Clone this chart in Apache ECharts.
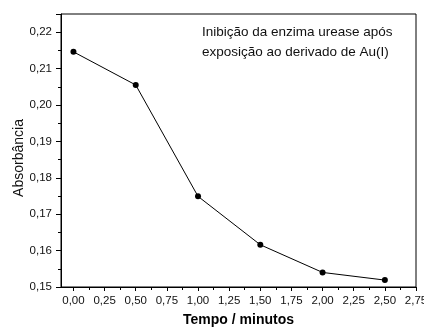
<!DOCTYPE html>
<html>
<head>
<meta charset="utf-8">
<script src="https://cdn.jsdelivr.net/npm/echarts@6/dist/echarts.min.js"></script>
<style>
  html, body { margin: 0; padding: 0; background: #fff; }
  #chart { width: 424px; height: 328px; }
</style>
</head>
<body>
<div id="chart"></div>
<script>
// tempo (min) e absorbância
const tempo = [0, 0.5, 1.0, 1.5, 2.0, 2.5];
const absorbancia = [0.2146, 0.2055, 0.1749, 0.1616, 0.1540, 0.1519];
const xMajorTicks = [0, 0.25, 0.5, 0.75, 1.0, 1.25, 1.5, 1.75, 2.0, 2.25, 2.5, 2.75];
const xMinorTicks = [0.125, 0.375, 0.625, 0.875, 1.125, 1.375, 1.625, 1.875, 2.125, 2.375, 2.625];
const legendLines = ['Inibição da enzima urease após', 'exposição ao derivado de Au(I)'];

const font = '"Liberation Sans", Arial, sans-serif';
const fmt = (v) => v.toFixed(2).replace('.', ',');

const myChart = echarts.init(document.getElementById('chart'));
myChart.setOption({
  animation: false,
  grid: {
    left: 61,
    right: 8,
    top: 14,
    bottom: 41,
    outerBoundsMode: 'none', // deixa o rótulo 2,75 sair pela borda como no original
    show: true,
    borderColor: '#000',
    borderWidth: 1,
  },
  xAxis: [
    {
      type: 'value',
      min: -0.1,
      max: 2.75,
      name: 'Tempo / minutos',
      nameLocation: 'middle',
      nameGap: 26,
      nameTextStyle: { fontFamily: font, fontSize: 14, fontWeight: 'bold', color: '#000' },
      axisLine: { onZero: false, lineStyle: { color: '#000', width: 1 } },
      axisTick: { length: 4, customValues: xMajorTicks, lineStyle: { color: '#000' } },
      axisLabel: {
        customValues: xMajorTicks,
        margin: 8,
        fontFamily: font,
        fontSize: 11.5,
        color: '#111',
        formatter: fmt,
      },
      splitLine: { show: false },
    },
    {
      // só para os traços menores do eixo x
      type: 'value',
      min: -0.1,
      max: 2.75,
      position: 'bottom',
      axisLine: { show: false, onZero: false },
      axisTick: { length: 3, customValues: xMinorTicks, lineStyle: { color: '#000' } },
      axisLabel: { show: false },
      splitLine: { show: false },
    },
  ],
  yAxis: {
    type: 'value',
    min: 0.15,
    max: 0.225,
    interval: 0.01,
    axisLine: { show: true, onZero: false, lineStyle: { color: '#000', width: 1 } },
    axisTick: { show: true, length: 5, lineStyle: { color: '#000' } },
    minorTick: { show: true, splitNumber: 2, length: 3, lineStyle: { color: '#000' } },
    axisLabel: {
      margin: 9,
      fontFamily: font,
      fontSize: 11.5,
      color: '#111',
      showMaxLabel: false,
      formatter: fmt,
    },
    splitLine: { show: false },
  },
  graphic: [
    {
      type: 'text',
      x: 19,
      y: 158,
      rotation: Math.PI / 2,
      style: {
        text: 'Absorbância',
        fontFamily: font,
        fontSize: 14,
        fill: '#111',
        textAlign: 'center',
        textVerticalAlign: 'middle',
      },
    },
    {
      type: 'text',
      left: 202,
      top: 22,
      style: {
        text: legendLines.join('\n'),
        fontFamily: font,
        fontSize: 13.5,
        lineHeight: 20,
        fill: '#111',
      },
    },
  ],
  series: [
    {
      type: 'line',
      xAxisIndex: 0,
      data: tempo.map((t, i) => [t, absorbancia[i]]),
      symbol: 'circle',
      symbolSize: 6,
      lineStyle: { color: '#000', width: 1 },
      itemStyle: { color: '#000' },
    },
  ],
});
</script>
</body>
</html>
